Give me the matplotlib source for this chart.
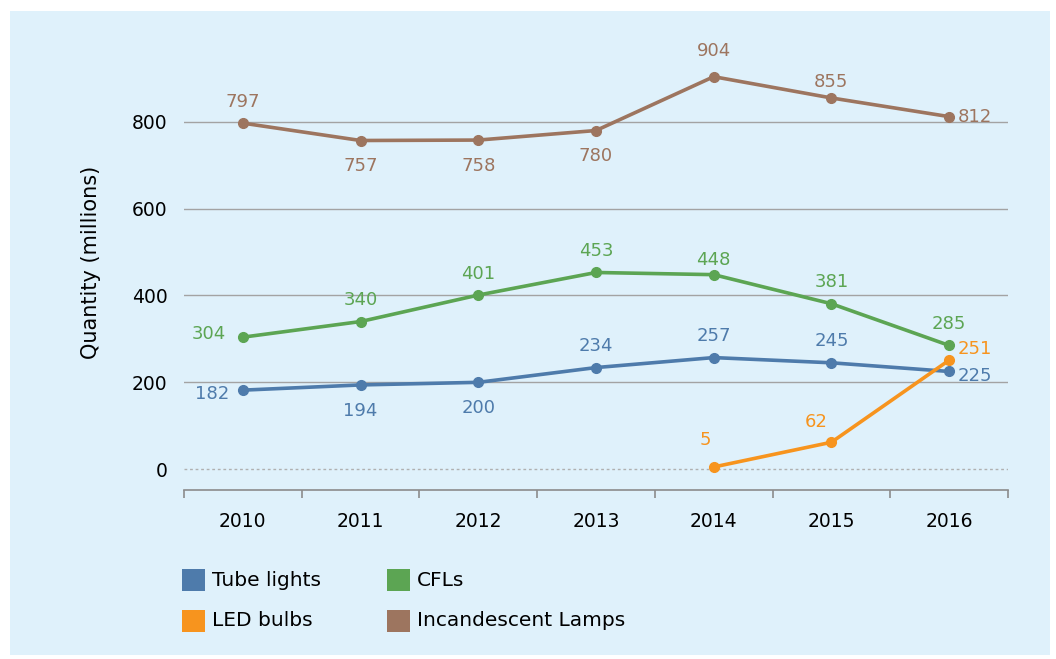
import matplotlib.pyplot as plt
from matplotlib.patches import Rectangle
from matplotlib.ticker import FixedLocator

years = [2010, 2011, 2012, 2013, 2014, 2015, 2016]
tube_lights = [182, 194, 200, 234, 257, 245, 225]
cfls = [304, 340, 401, 453, 448, 381, 285]
led_years = [2014, 2015, 2016]
led_bulbs = [5, 62, 251]
incandescent = [797, 757, 758, 780, 904, 855, 812]

c_tube = '#4E7BAB'
c_cfl = '#5CA553'
c_led = '#F7941E'
c_inc = '#9D755F'
bg = '#DFF1FB'

fig = plt.figure(figsize=(10.56, 6.59), dpi=100)
fig.patch.set_facecolor('white')
fig.patches.append(Rectangle((10 / 1056, 4 / 659), 1040 / 1056, 644 / 659,
                             transform=fig.transFigure, facecolor=bg,
                             edgecolor='none', zorder=-10))

ax = fig.add_axes([184 / 1056, 169 / 659, 824 / 1056, 455 / 659])
ax.set_facecolor('none')
ax.set_xlim(2009.5, 2016.5)
ax.set_ylim(-48, 1000)

# Grid lines
for v in [200, 400, 600, 800]:
    ax.axhline(v, color='#A3A3A3', lw=1, zorder=1)
ax.axhline(0, color='#B0B0B0', lw=1, ls=(0, (2, 2)), zorder=1)

for sp in ['top', 'right', 'left']:
    ax.spines[sp].set_visible(False)
ax.spines['bottom'].set_color('#8C8C8C')
ax.spines['bottom'].set_linewidth(1.2)

ax.set_yticks([0, 200, 400, 600, 800])
ax.tick_params(axis='y', length=0, pad=12, labelsize=13.5)
ax.set_xticks(years)
ax.set_xticklabels([str(y) for y in years])
ax.tick_params(axis='x', length=0, pad=16, labelsize=13.5)
ax.xaxis.set_minor_locator(FixedLocator([y - 0.5 for y in years] + [2016.5]))
ax.tick_params(axis='x', which='minor', length=6, color='#8C8C8C', width=1.2)
ax.set_ylabel('Quantity (millions)', fontsize=15, labelpad=22)

lw = 2.6
ms = 7
ax.plot(years, incandescent, color=c_inc, lw=lw, marker='o', ms=ms, zorder=3, clip_on=False)
ax.plot(years, cfls, color=c_cfl, lw=lw, marker='o', ms=ms, zorder=3, clip_on=False)
ax.plot(years, tube_lights, color=c_tube, lw=lw, marker='o', ms=ms, zorder=4, clip_on=False)
ax.plot(led_years, led_bulbs, color=c_led, lw=lw, marker='o', ms=ms, zorder=5, clip_on=False)

fs = 13

# label placement: (dx, dy) in points, ha, va
above = ((0, 9), 'center', 'bottom')
below = ((0, -12), 'center', 'top')
left = ((-12, 2), 'right', 'center')
right = ((6, 0), 'left', 'center')


def lab(x, y, color, place):
    off, ha, va = place
    ax.annotate(str(y), (x, y), xytext=off, textcoords='offset points',
                ha=ha, va=va, color=color, fontsize=fs, annotation_clip=False)


inc_pos = [above, below, below, below, ((0, 12), 'center', 'bottom'),
           ((0, 5), 'center', 'bottom'), right]
cfl_pos = [left, above, above, above, ((0, 4), 'center', 'bottom'), above, above]
tube_pos = [((-10, -3), 'right', 'center'), below, below, above, above, above,
            ((6, -3), 'left', 'center')]
led_pos = [((-2, 13), 'right', 'bottom'), ((-3, 8), 'right', 'bottom'),
           ((6, 8), 'left', 'center')]

for x, y, p in zip(years, incandescent, inc_pos):
    lab(x, y, c_inc, p)
for x, y, p in zip(years, cfls, cfl_pos):
    lab(x, y, c_cfl, p)
for x, y, p in zip(years, tube_lights, tube_pos):
    lab(x, y, c_tube, p)
for x, y, p in zip(led_years, led_bulbs, led_pos):
    lab(x, y, c_led, p)

# Legend drawn by hand
legend_names = ['Tube lights', 'CFLs', 'LED bulbs', 'Incandescent Lamps']
legend_colors = [c_tube, c_cfl, c_led, c_inc]
legend_xy = [(182, 580), (387, 580), (182, 621), (387, 621)]
for name, col, (px, py) in zip(legend_names, legend_colors, legend_xy):
    fig.patches.append(Rectangle((px / 1056, 1 - (py + 11) / 659), 23 / 1056, 22 / 659,
                                 transform=fig.transFigure, facecolor=col,
                                 edgecolor='none'))
    fig.text((px + 30) / 1056, 1 - py / 659, name, fontsize=14.5, va='center', ha='left')

fig.savefig('out.png', dpi=100, facecolor=fig.get_facecolor())
